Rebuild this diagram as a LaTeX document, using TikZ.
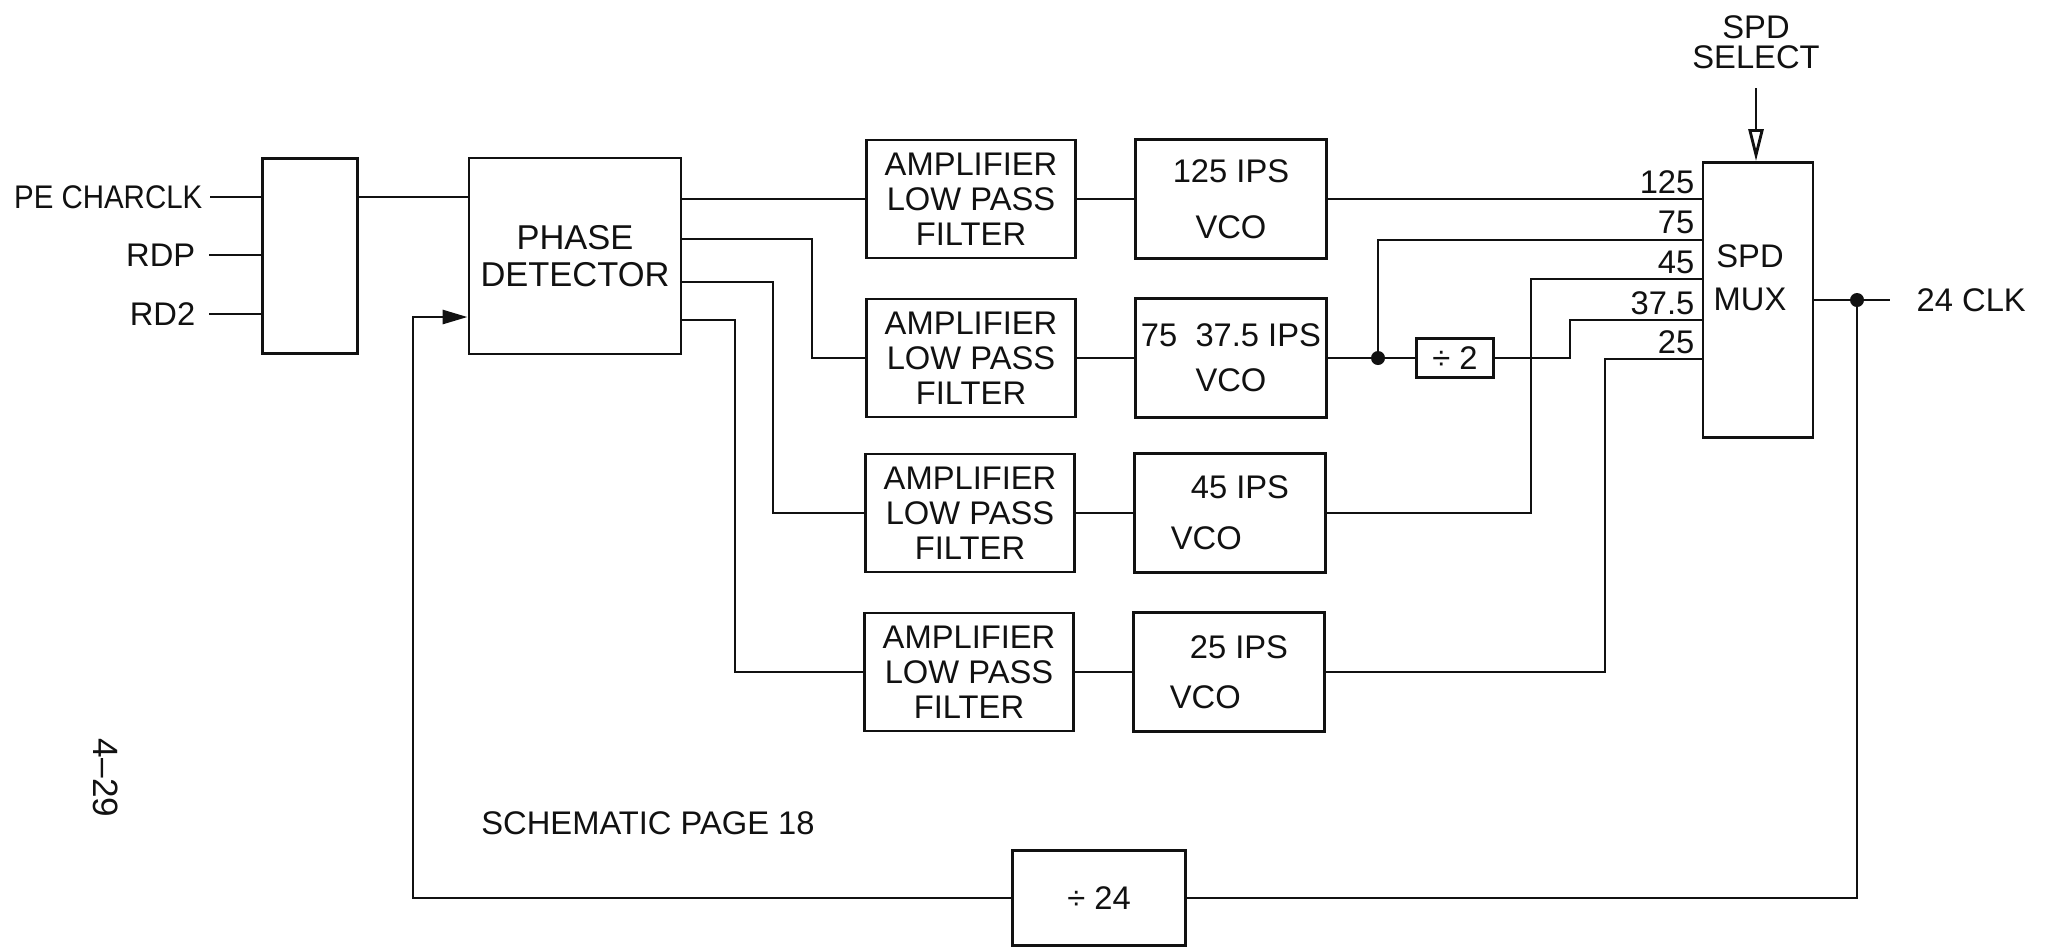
\documentclass[tikz,border=0pt]{standalone}
\usepackage{fontspec}
\setmainfont{Liberation Sans}
\usepackage{tikz}
\usetikzlibrary{arrows.meta,positioning,calc}
\definecolor{ink}{HTML}{111111}
\tikzset{
  blk/.style={draw=ink, line width=0.8pt, inner sep=0pt, align=center, text=ink},
  ampbox/.style={blk, minimum width=2.09cm, minimum height=1.18cm},
  vcobox/.style={blk, minimum width=1.91cm, minimum height=1.19cm},
  wire/.style={draw=ink, line width=0.8pt},
  lbl/.style={text=ink, inner sep=0pt},
  muxin/.style={lbl, anchor=south east}
}

\begin{document}
\begin{tikzpicture}[x=0.01cm, y=-0.01cm, font=\fontsize{9.3}{10}\selectfont]
\fill[white] (0,0) rectangle (2049,947);
\useasboundingbox (0,0) rectangle (2049,947);

\node[blk, minimum width=0.95cm, minimum height=1.95cm] (inbox) at (310,256) {};
\node[blk, minimum width=2.12cm, minimum height=1.96cm, font=\fontsize{9.8}{10.6}\selectfont] (pd) at (575,256) {PHASE\\DETECTOR};
\node[lbl, anchor=east] (pe) at (203,197) {\scalebox{0.9}[1]{PE CHARCLK}};
\node[lbl, anchor=east] (rdp) at (196,255) {RDP};
\node[lbl, anchor=east] (rd2) at (196,314) {RD2};
\draw[wire] ([xshift=0.07cm]pe.east) -- (pe -| inbox.west);
\draw[wire] ([xshift=0.13cm]rdp.east) -- (rdp -| inbox.west);
\draw[wire] ([xshift=0.13cm]rd2.east) -- (rd2 -| inbox.west);
\draw[wire] (inbox.east |- pe) -- (pd.west |- pe);

\node[ampbox] (amp1) at (971,199) {AMPLIFIER\\LOW PASS\\FILTER};
\node[ampbox] (amp2) at (971,358) {AMPLIFIER\\LOW PASS\\FILTER};
\node[ampbox] (amp3) at (970,513) {AMPLIFIER\\LOW PASS\\FILTER};
\node[ampbox] (amp4) at (969,672) {AMPLIFIER\\LOW PASS\\FILTER};
\node[vcobox, right=0.57cm of amp1] (vco1) {125 IPS\\[0.21cm]VCO};
\node[vcobox, right=0.57cm of amp2] (vco2) {75\ \ 37.5 IPS\\[0.1cm]VCO};
\node[vcobox, right=0.57cm of amp3, align=left] (vco3) {\hspace*{0.2cm}45 IPS\\[0.16cm]VCO};
\node[vcobox, right=0.57cm of amp4, align=left] (vco4) {\hspace*{0.2cm}25 IPS\\[0.15cm]VCO};

\draw[wire] (pd.east |- amp1) -- (amp1.west);
\draw[wire] (pd.east |- 0,239) -- (812,239) |- (amp2.west);
\draw[wire] (pd.east |- 0,282) -- (773,282) |- (amp3.west);
\draw[wire] (pd.east |- 0,320) -- (735,320) |- (amp4.west);
\foreach \i in {1,...,4}
  \draw[wire] (amp\i.east) -- (vco\i.west);

\node[blk, minimum width=1.10cm, minimum height=2.75cm] (mux) at (1758,300) {};
\node[lbl, align=center] (muxtxt) at (1750,278) {SPD\\[0.08cm]MUX};
\node[blk, minimum width=0.77cm, minimum height=0.39cm] (div2) at (1455,358) {÷ 2};
\node[blk, minimum width=1.73cm, minimum height=0.95cm] (div24) at (1099,898) {÷ 24};
\foreach \v/\y [count=\k] in {125/200, 75/240, 45/279, 37.5/320, 25/359}
  \node[muxin] (mx\k) at (1695,\y-5) {\v};

\coordinate (j1) at (1378,358);
\coordinate (j2) at (1857,300);
\coordinate (fb) at (413,317);
\draw[wire] (vco1.east) -- (vco1.east -| mux.west);
\draw[wire] (vco2.east) -- (j1) -- (div2.west);
\draw[wire] (j1) |- (mux.west |- 0,240);
\draw[wire] (div2.east) -- (1570,358) |- (mux.west |- 0,320);
\draw[wire] (vco3.east) -- (1531,513) |- (mux.west |- 0,279);
\draw[wire] (vco4.east) -- (1605,672) |- (mux.west |- 0,359);
\fill[ink] (j1) circle (0.07cm);

\node[lbl, align=center] (spdsel) at (1756,42) {SPD\\[-0.05cm]SELECT};
\draw[wire, -{Triangle[open, length=0.32cm, width=0.15cm]}] ([yshift=-0.19cm]spdsel.south) -- (spdsel.south |- mux.north);

\node[lbl, anchor=west] (clk) at (1916,300) {24 CLK};
\draw[wire] (mux.east) -- (j2) -- ([xshift=-0.26cm]clk.west);
\fill[ink] (j2) circle (0.07cm);
\draw[wire] (j2) |- (div24.east);
\draw[wire, -{Triangle[length=0.25cm, width=0.14cm]}] (div24.west) -| (fb) -- (fb -| pd.west);

\node[lbl] (schem) at (648,823) {SCHEMATIC PAGE 18};
\node[lbl, rotate=-90, font=\fontsize{10}{11}\selectfont] (pgno) at (106,778) {4--29};
\end{tikzpicture}
\end{document}
